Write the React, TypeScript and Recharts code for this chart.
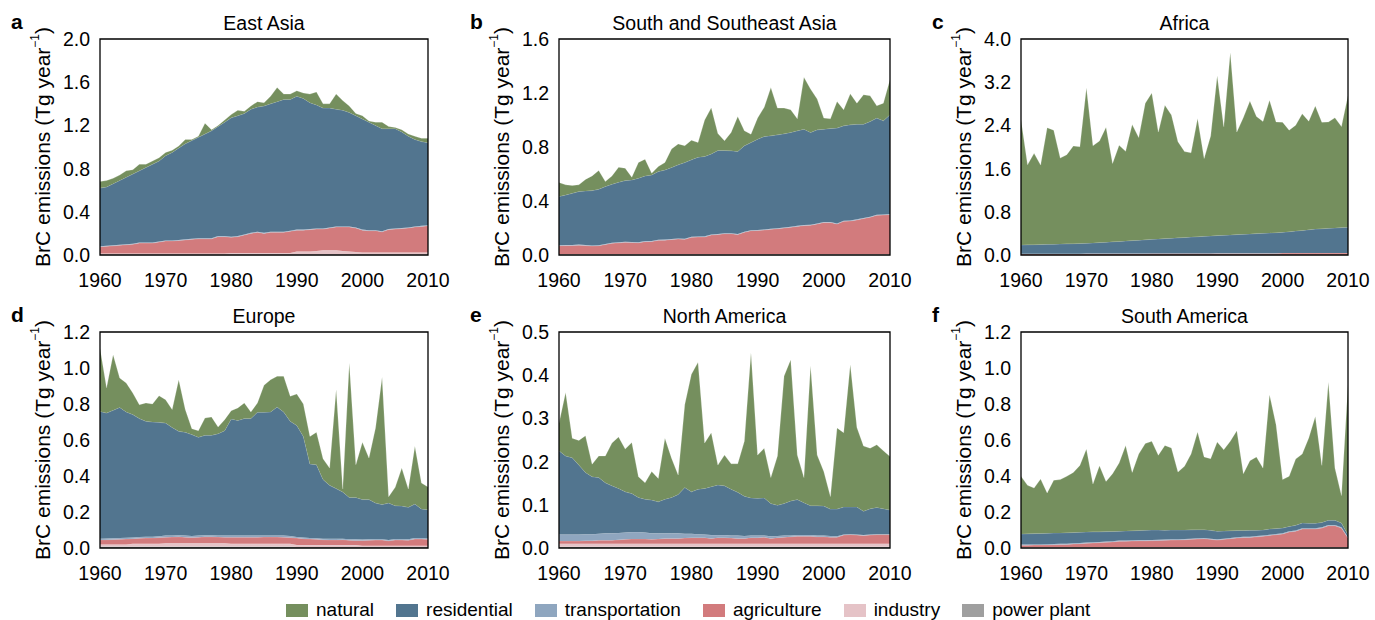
import React from "react";
import { AreaChart, Area, XAxis, YAxis, ReferenceArea, Label } from "recharts";

// years on the x axis
const years = [
  1960, 1961, 1962, 1963, 1964, 1965, 1966, 1967, 1968, 1969,
  1970, 1971, 1972, 1973, 1974, 1975, 1976, 1977, 1978, 1979,
  1980, 1981, 1982, 1983, 1984, 1985, 1986, 1987, 1988, 1989,
  1990, 1991, 1992, 1993, 1994, 1995, 1996, 1997, 1998, 1999,
  2000, 2001, 2002, 2003, 2004, 2005, 2006, 2007, 2008, 2009, 2010,
];
const yearTicks = [1960, 1970, 1980, 1990, 2000, 2010];

// ---- East Asia (Tg/yr) ----
const eaPower = [
  0.003, 0.003, 0.003, 0.003, 0.003, 0.003, 0.003, 0.003, 0.003, 0.003,
  0.003, 0.003, 0.003, 0.003, 0.003, 0.003, 0.003, 0.003, 0.003, 0.003,
  0.003, 0.003, 0.003, 0.003, 0.003, 0.003, 0.003, 0.003, 0.003, 0.003,
  0.003, 0.003, 0.003, 0.003, 0.003, 0.003, 0.003, 0.003, 0.003, 0.003,
  0.003, 0.003, 0.003, 0.003, 0.003, 0.003, 0.003, 0.003, 0.003, 0.003, 0.003,
];
const eaIndustry = [
  0.01, 0.01, 0.01, 0.01, 0.01, 0.01, 0.01, 0.01, 0.01, 0.01,
  0.01, 0.01, 0.01, 0.01, 0.01, 0.01, 0.01, 0.01, 0.01, 0.01,
  0.015, 0.015, 0.015, 0.015, 0.015, 0.015, 0.015, 0.015, 0.015, 0.015,
  0.03, 0.03, 0.03, 0.035, 0.04, 0.04, 0.04, 0.035, 0.03, 0.025,
  0.02, 0.02, 0.02, 0.02, 0.02, 0.02, 0.02, 0.02, 0.02, 0.02, 0.02,
];
const eaAgriculture = [
  0.064, 0.067, 0.072, 0.077, 0.082, 0.087, 0.097, 0.097, 0.097, 0.107,
  0.117, 0.117, 0.122, 0.127, 0.132, 0.137, 0.137, 0.137, 0.157, 0.157,
  0.147, 0.152, 0.167, 0.182, 0.192, 0.182, 0.192, 0.192, 0.192, 0.202,
  0.197, 0.197, 0.202, 0.202, 0.197, 0.207, 0.217, 0.222, 0.227, 0.222,
  0.207, 0.202, 0.202, 0.192, 0.212, 0.217, 0.222, 0.227, 0.237, 0.242, 0.247,
];
const eaTransport = [
  0.005, 0.005, 0.005, 0.005, 0.005, 0.005, 0.005, 0.005, 0.005, 0.005,
  0.005, 0.005, 0.005, 0.005, 0.005, 0.005, 0.005, 0.005, 0.005, 0.005,
  0.005, 0.005, 0.005, 0.005, 0.005, 0.005, 0.005, 0.005, 0.005, 0.005,
  0.005, 0.005, 0.005, 0.005, 0.005, 0.005, 0.005, 0.005, 0.005, 0.005,
  0.005, 0.005, 0.005, 0.005, 0.005, 0.005, 0.005, 0.005, 0.005, 0.005, 0.005,
];
const eaResidential = [
  0.538, 0.545, 0.57, 0.595, 0.62, 0.645, 0.665, 0.695, 0.725, 0.745,
  0.785, 0.815, 0.85, 0.885, 0.91, 0.935, 0.965, 0.995, 1.015, 1.055,
  1.1, 1.115, 1.12, 1.145, 1.155, 1.175, 1.185, 1.205, 1.225, 1.215,
  1.235, 1.215, 1.17, 1.145, 1.115, 1.105, 1.085, 1.075, 1.055, 1.035,
  1.025, 1.0, 0.97, 0.95, 0.93, 0.925, 0.89, 0.845, 0.805, 0.78, 0.765,
];
const eaNatural = [
  0.06, 0.06, 0.05, 0.05, 0.06, 0.04, 0.06, 0.03, 0.03, 0.03,
  0.03, 0.02, 0.02, 0.04, 0.01, 0.01, 0.1, 0.01, 0.01, 0.02,
  0.03, 0.05, 0.02, 0.03, 0.05, 0.03, 0.07, 0.13, 0.05, 0.05,
  0.05, 0.05, 0.08, 0.12, 0.04, 0.04, 0.14, 0.09, 0.06, 0.02,
  0.03, 0.01, 0.03, 0.06, 0.02, 0.01, 0.02, 0.02, 0.03, 0.03, 0.04,
];

// ---- South and Southeast Asia ----
const saPower = [
  0.002, 0.002, 0.002, 0.002, 0.002, 0.002, 0.002, 0.002, 0.002, 0.002,
  0.002, 0.002, 0.002, 0.002, 0.002, 0.002, 0.002, 0.002, 0.002, 0.002,
  0.002, 0.002, 0.002, 0.002, 0.002, 0.002, 0.002, 0.002, 0.002, 0.002,
  0.002, 0.002, 0.002, 0.002, 0.002, 0.002, 0.002, 0.002, 0.002, 0.002,
  0.002, 0.002, 0.002, 0.002, 0.002, 0.002, 0.002, 0.002, 0.002, 0.002, 0.002,
];
const saIndustry = [
  0.006, 0.006, 0.006, 0.006, 0.006, 0.006, 0.006, 0.006, 0.006, 0.006,
  0.006, 0.006, 0.006, 0.006, 0.006, 0.006, 0.006, 0.006, 0.006, 0.006,
  0.006, 0.006, 0.006, 0.006, 0.006, 0.006, 0.006, 0.006, 0.006, 0.006,
  0.006, 0.006, 0.006, 0.006, 0.006, 0.006, 0.006, 0.006, 0.006, 0.006,
  0.006, 0.006, 0.006, 0.006, 0.006, 0.006, 0.006, 0.006, 0.006, 0.006, 0.006,
];
const saAgriculture = [
  0.061, 0.062, 0.063, 0.065, 0.062, 0.059, 0.061, 0.07, 0.079, 0.082,
  0.086, 0.085, 0.083, 0.091, 0.092, 0.101, 0.102, 0.107, 0.111, 0.108,
  0.123, 0.125, 0.126, 0.14, 0.144, 0.15, 0.15, 0.143, 0.16, 0.172,
  0.174, 0.177, 0.182, 0.187, 0.192, 0.197, 0.204, 0.21, 0.212, 0.222,
  0.232, 0.232, 0.222, 0.242, 0.244, 0.252, 0.262, 0.272, 0.286, 0.288, 0.292,
];
const saTransport = [
  0.004, 0.004, 0.004, 0.004, 0.004, 0.004, 0.004, 0.004, 0.004, 0.004,
  0.004, 0.004, 0.004, 0.004, 0.004, 0.004, 0.004, 0.004, 0.004, 0.004,
  0.004, 0.004, 0.004, 0.004, 0.004, 0.004, 0.004, 0.004, 0.004, 0.004,
  0.004, 0.004, 0.004, 0.004, 0.004, 0.004, 0.004, 0.004, 0.004, 0.004,
  0.004, 0.004, 0.004, 0.004, 0.004, 0.004, 0.004, 0.004, 0.004, 0.004, 0.004,
];
const saResidential = [
  0.36, 0.371, 0.382, 0.393, 0.401, 0.406, 0.414, 0.425, 0.433, 0.445,
  0.453, 0.459, 0.474, 0.483, 0.489, 0.505, 0.516, 0.529, 0.545, 0.565,
  0.57, 0.588, 0.592, 0.597, 0.618, 0.612, 0.61, 0.612, 0.637, 0.649,
  0.672, 0.689, 0.689, 0.691, 0.694, 0.699, 0.704, 0.71, 0.684, 0.693,
  0.688, 0.693, 0.706, 0.703, 0.708, 0.705, 0.695, 0.705, 0.716, 0.694, 0.735,
];
const saNatural = [
  0.104, 0.075, 0.058, 0.05, 0.085, 0.109, 0.139, 0.037, 0.062, 0.111,
  0.092, 0.02, 0.116, 0.124, 0.013, 0.037, 0.055, 0.138, 0.155, 0.125,
  0.145, 0.108, 0.27, 0.341, 0.126, 0.072, 0.136, 0.259, 0.111, 0.062,
  0.156, 0.217, 0.357, 0.198, 0.19, 0.168, 0.089, 0.384, 0.321, 0.228,
  0.082, 0.072, 0.197, 0.119, 0.23, 0.156, 0.218, 0.191, 0.091, 0.131, 0.261,
];

// ---- Africa ----
const afPower = [
  0.001, 0.001, 0.001, 0.001, 0.001, 0.001, 0.001, 0.001, 0.001, 0.001,
  0.001, 0.001, 0.001, 0.001, 0.001, 0.001, 0.001, 0.001, 0.001, 0.001,
  0.001, 0.001, 0.001, 0.001, 0.001, 0.001, 0.001, 0.001, 0.001, 0.001,
  0.001, 0.001, 0.001, 0.001, 0.001, 0.001, 0.001, 0.001, 0.001, 0.001,
  0.001, 0.001, 0.001, 0.001, 0.001, 0.001, 0.001, 0.001, 0.001, 0.001, 0.001,
];
const afIndustry = [
  0.004, 0.004, 0.004, 0.004, 0.004, 0.004, 0.004, 0.004, 0.004, 0.004,
  0.004, 0.004, 0.004, 0.004, 0.004, 0.004, 0.004, 0.004, 0.004, 0.004,
  0.004, 0.004, 0.004, 0.004, 0.004, 0.004, 0.004, 0.004, 0.004, 0.004,
  0.004, 0.004, 0.004, 0.004, 0.004, 0.004, 0.004, 0.004, 0.004, 0.004,
  0.004, 0.004, 0.004, 0.004, 0.004, 0.004, 0.004, 0.004, 0.004, 0.004, 0.004,
];
const afAgriculture = [
  0.015, 0.015, 0.015, 0.015, 0.015, 0.015, 0.015, 0.015, 0.015, 0.015,
  0.018, 0.018, 0.018, 0.018, 0.018, 0.018, 0.018, 0.018, 0.018, 0.018,
  0.021, 0.021, 0.021, 0.021, 0.021, 0.021, 0.021, 0.021, 0.021, 0.021,
  0.025, 0.025, 0.025, 0.025, 0.025, 0.025, 0.025, 0.025, 0.025, 0.025,
  0.03, 0.03, 0.03, 0.03, 0.03, 0.03, 0.03, 0.03, 0.03, 0.03, 0.03,
];
const afTransport = [
  0.004, 0.004, 0.004, 0.004, 0.004, 0.004, 0.004, 0.004, 0.004, 0.004,
  0.004, 0.004, 0.004, 0.004, 0.004, 0.004, 0.004, 0.004, 0.004, 0.004,
  0.004, 0.004, 0.004, 0.004, 0.004, 0.004, 0.004, 0.004, 0.004, 0.004,
  0.004, 0.004, 0.004, 0.004, 0.004, 0.004, 0.004, 0.004, 0.004, 0.004,
  0.004, 0.004, 0.004, 0.004, 0.004, 0.004, 0.004, 0.004, 0.004, 0.004, 0.004,
];
const afResidential = [
  0.162, 0.165, 0.168, 0.171, 0.174, 0.177, 0.18, 0.183, 0.186, 0.19,
  0.19, 0.197, 0.204, 0.211, 0.218, 0.225, 0.233, 0.24, 0.247, 0.255,
  0.26, 0.267, 0.274, 0.281, 0.288, 0.295, 0.302, 0.309, 0.316, 0.323,
  0.326, 0.332, 0.338, 0.344, 0.35, 0.356, 0.362, 0.368, 0.374, 0.38,
  0.381, 0.393, 0.405, 0.417, 0.429, 0.441, 0.448, 0.455, 0.462, 0.469, 0.476,
];
const afNatural = [
  2.32, 1.48, 1.69, 1.47, 2.16, 2.11, 1.59, 1.65, 1.81, 1.79,
  2.88, 1.8, 1.88, 2.13, 1.45, 1.78, 1.66, 2.15, 1.9, 2.53,
  2.71, 1.98, 2.47, 2.28, 1.78, 1.59, 1.56, 2.19, 1.44, 1.85,
  2.96, 2.01, 3.38, 1.9, 2.16, 2.46, 2.17, 2.07, 2.46, 2.05,
  2.04, 1.88, 1.96, 2.16, 2.01, 2.28, 1.97, 1.97, 2.04, 1.87, 2.44,
];

// ---- Europe ----
const euPower = [
  0.008, 0.008, 0.008, 0.008, 0.008, 0.008, 0.008, 0.008, 0.008, 0.008,
  0.008, 0.008, 0.008, 0.008, 0.008, 0.008, 0.008, 0.008, 0.008, 0.008,
  0.008, 0.008, 0.008, 0.008, 0.008, 0.008, 0.008, 0.008, 0.008, 0.008,
  0.006, 0.006, 0.006, 0.006, 0.006, 0.006, 0.006, 0.006, 0.006, 0.006,
  0.005, 0.005, 0.005, 0.005, 0.005, 0.005, 0.005, 0.005, 0.005, 0.005, 0.005,
];
const euIndustry = [
  0.012, 0.012, 0.012, 0.012, 0.012, 0.015, 0.015, 0.015, 0.015, 0.015,
  0.018, 0.018, 0.018, 0.018, 0.018, 0.018, 0.018, 0.018, 0.018, 0.018,
  0.015, 0.015, 0.015, 0.015, 0.015, 0.015, 0.015, 0.015, 0.015, 0.015,
  0.01, 0.01, 0.01, 0.01, 0.01, 0.01, 0.01, 0.01, 0.01, 0.01,
  0.008, 0.008, 0.008, 0.008, 0.008, 0.008, 0.008, 0.008, 0.008, 0.008, 0.008,
];
const euAgriculture = [
  0.025, 0.026, 0.027, 0.028, 0.03, 0.029, 0.031, 0.032, 0.033, 0.035,
  0.034, 0.035, 0.036, 0.034, 0.032, 0.034, 0.036, 0.036, 0.035, 0.034,
  0.037, 0.037, 0.037, 0.037, 0.037, 0.038, 0.038, 0.038, 0.037, 0.035,
  0.039, 0.036, 0.034, 0.032, 0.03, 0.029, 0.029, 0.03, 0.027, 0.026,
  0.029, 0.03, 0.031, 0.031, 0.027, 0.032, 0.031, 0.03, 0.037, 0.037, 0.035,
];
const euTransport = [
  0.007, 0.007, 0.007, 0.007, 0.007, 0.007, 0.007, 0.007, 0.007, 0.007,
  0.009, 0.009, 0.009, 0.009, 0.009, 0.009, 0.009, 0.009, 0.009, 0.009,
  0.009, 0.009, 0.009, 0.009, 0.009, 0.009, 0.009, 0.009, 0.009, 0.009,
  0.006, 0.006, 0.006, 0.006, 0.006, 0.006, 0.006, 0.006, 0.006, 0.006,
  0.005, 0.005, 0.005, 0.005, 0.005, 0.005, 0.005, 0.005, 0.005, 0.005, 0.005,
];
const euResidential = [
  0.707, 0.697, 0.711, 0.726, 0.699, 0.682, 0.658, 0.642, 0.637, 0.633,
  0.625, 0.6, 0.577, 0.574, 0.563, 0.546, 0.555, 0.555, 0.565, 0.583,
  0.648, 0.64, 0.65, 0.65, 0.685, 0.684, 0.686, 0.713, 0.687, 0.637,
  0.62, 0.562, 0.411, 0.409, 0.328, 0.297, 0.279, 0.259, 0.232, 0.233,
  0.222, 0.221, 0.201, 0.192, 0.205, 0.185, 0.184, 0.178, 0.189, 0.162, 0.16,
];
const euNatural = [
  0.351, 0.14, 0.309, 0.163, 0.161, 0.12, 0.077, 0.102, 0.1, 0.148,
  0.13, 0.099, 0.287, 0.126, 0.033, 0.037, 0.096, 0.102, 0.037, 0.061,
  0.046, 0.069, 0.087, 0.037, 0.052, 0.15, 0.179, 0.171, 0.198, 0.139,
  0.175, 0.18, 0.153, 0.18, 0.116, 0.096, 0.55, 0.017, 0.747, 0.182,
  0.318, 0.231, 0.417, 0.707, 0.035, 0.102, 0.211, 0.102, 0.321, 0.144, 0.126,
];

// ---- North America ----
const naPower = [
  0.003, 0.003, 0.003, 0.003, 0.003, 0.003, 0.003, 0.003, 0.003, 0.003,
  0.003, 0.003, 0.003, 0.003, 0.003, 0.003, 0.003, 0.003, 0.003, 0.003,
  0.003, 0.003, 0.003, 0.003, 0.003, 0.003, 0.003, 0.003, 0.003, 0.003,
  0.003, 0.003, 0.003, 0.003, 0.003, 0.003, 0.003, 0.003, 0.003, 0.003,
  0.003, 0.003, 0.003, 0.003, 0.003, 0.003, 0.003, 0.003, 0.003, 0.003, 0.003,
];
const naIndustry = [
  0.007, 0.007, 0.007, 0.007, 0.007, 0.007, 0.007, 0.007, 0.007, 0.007,
  0.007, 0.007, 0.007, 0.007, 0.007, 0.007, 0.007, 0.007, 0.007, 0.007,
  0.007, 0.007, 0.007, 0.007, 0.007, 0.007, 0.007, 0.007, 0.007, 0.007,
  0.007, 0.007, 0.007, 0.007, 0.007, 0.007, 0.007, 0.007, 0.007, 0.007,
  0.007, 0.007, 0.007, 0.007, 0.007, 0.007, 0.007, 0.007, 0.007, 0.007, 0.007,
];
const naAgriculture = [
  0.006, 0.006, 0.006, 0.006, 0.007, 0.007, 0.008, 0.008, 0.008, 0.009,
  0.01, 0.011, 0.011, 0.011, 0.01, 0.011, 0.012, 0.012, 0.012, 0.013,
  0.014, 0.014, 0.014, 0.012, 0.014, 0.014, 0.013, 0.012, 0.012, 0.014,
  0.014, 0.015, 0.012, 0.014, 0.015, 0.016, 0.017, 0.017, 0.017, 0.016,
  0.016, 0.015, 0.015, 0.02, 0.021, 0.02, 0.019, 0.02, 0.021, 0.021, 0.021,
];
const naTransport = [
  0.015, 0.015, 0.015, 0.015, 0.015, 0.015, 0.015, 0.016, 0.016, 0.016,
  0.016, 0.016, 0.016, 0.015, 0.014, 0.013, 0.012, 0.012, 0.012, 0.01,
  0.009, 0.008, 0.007, 0.008, 0.006, 0.006, 0.006, 0.007, 0.006, 0.005,
  0.005, 0.004, 0.005, 0.004, 0.004, 0.003, 0.003, 0.003, 0.003, 0.003,
  0.003, 0.003, 0.002, 0.001, 0.001, 0.001, 0.001, 0.001, 0.001, 0.001, 0.001,
];
const naResidential = [
  0.194, 0.182, 0.178, 0.161, 0.143, 0.133, 0.13, 0.117, 0.11, 0.103,
  0.094, 0.089, 0.08, 0.077, 0.077, 0.073, 0.079, 0.083, 0.09, 0.107,
  0.097, 0.104, 0.107, 0.112, 0.116, 0.114, 0.107, 0.1, 0.092, 0.087,
  0.086, 0.087, 0.076, 0.071, 0.074, 0.08, 0.082, 0.075, 0.068, 0.069,
  0.068, 0.062, 0.063, 0.064, 0.063, 0.064, 0.055, 0.06, 0.062, 0.059, 0.056,
];
const naNatural = [
  0.064, 0.147, 0.045, 0.057, 0.085, 0.029, 0.05, 0.062, 0.099, 0.119,
  0.099, 0.118, 0.048, 0.038, 0.066, 0.054, 0.141, 0.091, 0.045, 0.192,
  0.272, 0.294, 0.105, 0.125, 0.046, 0.071, 0.059, 0.066, 0.127, 0.336,
  0.1, 0.115, 0.06, 0.114, 0.295, 0.327, 0.103, 0.058, 0.324, 0.117,
  0.08, 0.029, 0.188, 0.172, 0.33, 0.184, 0.151, 0.14, 0.145, 0.134, 0.124,
];

// ---- South America ----
const smPower = [
  0.002, 0.002, 0.002, 0.002, 0.002, 0.002, 0.002, 0.002, 0.002, 0.002,
  0.002, 0.002, 0.002, 0.002, 0.002, 0.002, 0.002, 0.002, 0.002, 0.002,
  0.002, 0.002, 0.002, 0.002, 0.002, 0.002, 0.002, 0.002, 0.002, 0.002,
  0.002, 0.002, 0.002, 0.002, 0.002, 0.002, 0.002, 0.002, 0.002, 0.002,
  0.002, 0.002, 0.002, 0.002, 0.002, 0.002, 0.002, 0.002, 0.002, 0.002, 0.002,
];
const smIndustry = [
  0.004, 0.004, 0.004, 0.004, 0.004, 0.004, 0.004, 0.004, 0.004, 0.004,
  0.004, 0.004, 0.004, 0.004, 0.004, 0.004, 0.004, 0.004, 0.004, 0.004,
  0.004, 0.004, 0.004, 0.004, 0.004, 0.004, 0.004, 0.004, 0.004, 0.004,
  0.004, 0.004, 0.004, 0.004, 0.004, 0.004, 0.004, 0.004, 0.004, 0.004,
  0.004, 0.004, 0.004, 0.004, 0.004, 0.004, 0.004, 0.004, 0.004, 0.004, 0.004,
];
const smAgriculture = [
  0.009, 0.009, 0.01, 0.01, 0.011, 0.012, 0.013, 0.014, 0.016, 0.018,
  0.02, 0.022, 0.024, 0.026, 0.028, 0.031, 0.032, 0.033, 0.034, 0.034,
  0.035, 0.036, 0.037, 0.038, 0.039, 0.04, 0.042, 0.044, 0.046, 0.042,
  0.038, 0.042, 0.046, 0.05, 0.052, 0.053, 0.056, 0.059, 0.064, 0.068,
  0.072, 0.083, 0.087, 0.1, 0.1, 0.1, 0.105, 0.118, 0.118, 0.105, 0.05,
];
const smTransport = [
  0.004, 0.004, 0.004, 0.004, 0.004, 0.004, 0.004, 0.004, 0.004, 0.004,
  0.004, 0.004, 0.004, 0.004, 0.004, 0.004, 0.004, 0.004, 0.004, 0.004,
  0.004, 0.004, 0.004, 0.004, 0.004, 0.004, 0.004, 0.004, 0.004, 0.004,
  0.004, 0.004, 0.004, 0.004, 0.004, 0.004, 0.004, 0.004, 0.004, 0.004,
  0.004, 0.004, 0.004, 0.004, 0.004, 0.004, 0.004, 0.004, 0.004, 0.004, 0.004,
];
const smResidential = [
  0.059, 0.06, 0.06, 0.061, 0.061, 0.061, 0.061, 0.061, 0.06, 0.06,
  0.059, 0.058, 0.056, 0.055, 0.054, 0.052, 0.053, 0.053, 0.053, 0.055,
  0.055, 0.054, 0.052, 0.052, 0.051, 0.05, 0.049, 0.048, 0.046, 0.046,
  0.045, 0.042, 0.04, 0.037, 0.035, 0.035, 0.033, 0.031, 0.032, 0.03,
  0.029, 0.027, 0.029, 0.029, 0.028, 0.027, 0.027, 0.026, 0.026, 0.024, 0.014,
];
const smNatural = [
  0.32, 0.269, 0.253, 0.302, 0.224, 0.293, 0.296, 0.313, 0.334, 0.371,
  0.461, 0.266, 0.367, 0.279, 0.321, 0.379, 0.474, 0.324, 0.425, 0.481,
  0.493, 0.415, 0.471, 0.456, 0.322, 0.354, 0.421, 0.542, 0.404, 0.398,
  0.496, 0.452, 0.497, 0.555, 0.316, 0.387, 0.407, 0.344, 0.746, 0.577,
  0.269, 0.278, 0.368, 0.383, 0.473, 0.594, 0.317, 0.768, 0.29, 0.152, 0.833,
];

// stacking order, bottom to top
const sectors = [
  { key: "powerPlant", label: "power plant", color: "#9f9f9f" },
  { key: "industry", label: "industry", color: "#e5c3c7" },
  { key: "agriculture", label: "agriculture", color: "#d27b7d" },
  { key: "transportation", label: "transportation", color: "#8fa6bf" },
  { key: "residential", label: "residential", color: "#52758f" },
  { key: "natural", label: "natural", color: "#758f5e" },
];

type Series = Record<string, number[]>;

const buildRows = (s: Series) =>
  years.map((year, i) => {
    const row: Record<string, number> = { year };
    sectors.forEach((sec) => {
      row[sec.key] = s[sec.key][i];
    });
    return row;
  });

const FONT = "'Liberation Sans', Arial, Helvetica, sans-serif";
const M_TOP = 39;
const M_LEFT = 55;
const Y_W = 45;
const M_RIGHT = 32;

const panels = [
  {
    letter: "a", title: "East Asia", max: 2.0, ticks: [0, 0.4, 0.8, 1.2, 1.6, 2.0],
    left: 0, top: 0, plotW: 328,
    series: { powerPlant: eaPower, industry: eaIndustry, agriculture: eaAgriculture, transportation: eaTransport, residential: eaResidential, natural: eaNatural },
  },
  {
    letter: "b", title: "South and Southeast Asia", max: 1.6, ticks: [0, 0.4, 0.8, 1.2, 1.6],
    left: 459, top: 0, plotW: 331,
    series: { powerPlant: saPower, industry: saIndustry, agriculture: saAgriculture, transportation: saTransport, residential: saResidential, natural: saNatural },
  },
  {
    letter: "c", title: "Africa", max: 4.0, ticks: [0, 0.8, 1.6, 2.4, 3.2, 4.0],
    left: 921, top: 0, plotW: 327,
    series: { powerPlant: afPower, industry: afIndustry, agriculture: afAgriculture, transportation: afTransport, residential: afResidential, natural: afNatural },
  },
  {
    letter: "d", title: "Europe", max: 1.2, ticks: [0, 0.2, 0.4, 0.6, 0.8, 1.0, 1.2],
    left: 0, top: 293, plotW: 328,
    series: { powerPlant: euPower, industry: euIndustry, agriculture: euAgriculture, transportation: euTransport, residential: euResidential, natural: euNatural },
  },
  {
    letter: "e", title: "North America", max: 0.5, ticks: [0, 0.1, 0.2, 0.3, 0.4, 0.5],
    left: 459, top: 293, plotW: 331,
    series: { powerPlant: naPower, industry: naIndustry, agriculture: naAgriculture, transportation: naTransport, residential: naResidential, natural: naNatural },
  },
  {
    letter: "f", title: "South America", max: 1.2, ticks: [0, 0.2, 0.4, 0.6, 0.8, 1.0, 1.2],
    left: 921, top: 293, plotW: 327,
    series: { powerPlant: smPower, industry: smIndustry, agriculture: smAgriculture, transportation: smTransport, residential: smResidential, natural: smNatural },
  },
];

const YTitle = (props: any) => {
  const vb = props.viewBox || {};
  const x = vb.x - 13;
  const cy = vb.y + vb.height / 2;
  return (
    <text
      x={x}
      y={cy}
      transform={`rotate(-90, ${x}, ${cy})`}
      textAnchor="middle"
      dominantBaseline="central"
      fontSize={21}
      fontFamily={FONT}
      fill="#000"
    >
      BrC emissions (Tg year
      <tspan dy={-7} fontSize={12}>−1</tspan>
      <tspan dy={7}>)</tspan>
    </text>
  );
};

function Panel({ p }: { p: (typeof panels)[number] }) {
  const rows = buildRows(p.series);
  const width = M_LEFT + Y_W + p.plotW + M_RIGHT;
  return (
    <div style={{ position: "absolute", left: p.left, top: p.top, width, height: 295 }}>
      <div
        style={{
          position: "absolute", left: 11, top: 10, fontSize: 21, fontWeight: "bold", lineHeight: "24px",
        }}
      >
        {p.letter}
      </div>
      <div
        style={{
          position: "absolute", left: M_LEFT + Y_W, top: 12, width: p.plotW, textAlign: "center",
          fontSize: 19.5, lineHeight: "22px",
        }}
      >
        {p.title}
      </div>
      <AreaChart
        width={width}
        height={295}
        data={rows}
        margin={{ top: M_TOP, right: M_RIGHT, left: M_LEFT, bottom: 10 }}
      >
        <XAxis
          dataKey="year"
          type="number"
          domain={[1960, 2010]}
          ticks={yearTicks}
          interval={0}
          tickLine={false}
          axisLine={false}
          tickMargin={12}
          height={30}
          tick={{ fontSize: 19.5, fill: "#000", fontFamily: FONT }}
        />
        <YAxis
          type="number"
          domain={[0, p.max]}
          ticks={p.ticks}
          interval={0}
          width={Y_W}
          tickLine={false}
          axisLine={false}
          tickMargin={4}
          tickFormatter={(v: number) => v.toFixed(1)}
          tick={{ fontSize: 19.5, fill: "#000", fontFamily: FONT }}
        >
          <Label content={<YTitle />} />
        </YAxis>
        {sectors.map((s) => (
          <Area
            key={s.key}
            type="linear"
            dataKey={s.key}
            stackId="brc"
            fill={s.color}
            fillOpacity={1}
            stroke="#ffffff"
            strokeOpacity={0.35}
            strokeWidth={0.6}
            dot={false}
            activeDot={false}
            isAnimationActive={false}
          />
        ))}
        <ReferenceArea
          x1={1960}
          x2={2010}
          y1={0}
          y2={p.max}
          fill="none"
          fillOpacity={0}
          stroke="#000"
          strokeWidth={1.3}
        />
      </AreaChart>
    </div>
  );
}

export default function App() {
  const legendOrder = [...sectors].reverse();
  return (
    <div
      style={{
        position: "absolute", left: 0, top: 0, width: 1375, height: 620, background: "#fff",
        fontFamily: FONT, color: "#000",
      }}
    >
      {panels.map((p) => (
        <Panel key={p.letter} p={p} />
      ))}
      <div style={{ position: "absolute", left: 286, top: 598, display: "flex", alignItems: "center", height: 24 }}>
        {legendOrder.map((s) => (
          <div key={s.key} style={{ display: "flex", alignItems: "center", marginRight: 22 }}>
            <div style={{ width: 22, height: 13, background: s.color, marginRight: 8 }} />
            <span style={{ fontSize: 19, lineHeight: "24px" }}>{s.label}</span>
          </div>
        ))}
      </div>
    </div>
  );
}
